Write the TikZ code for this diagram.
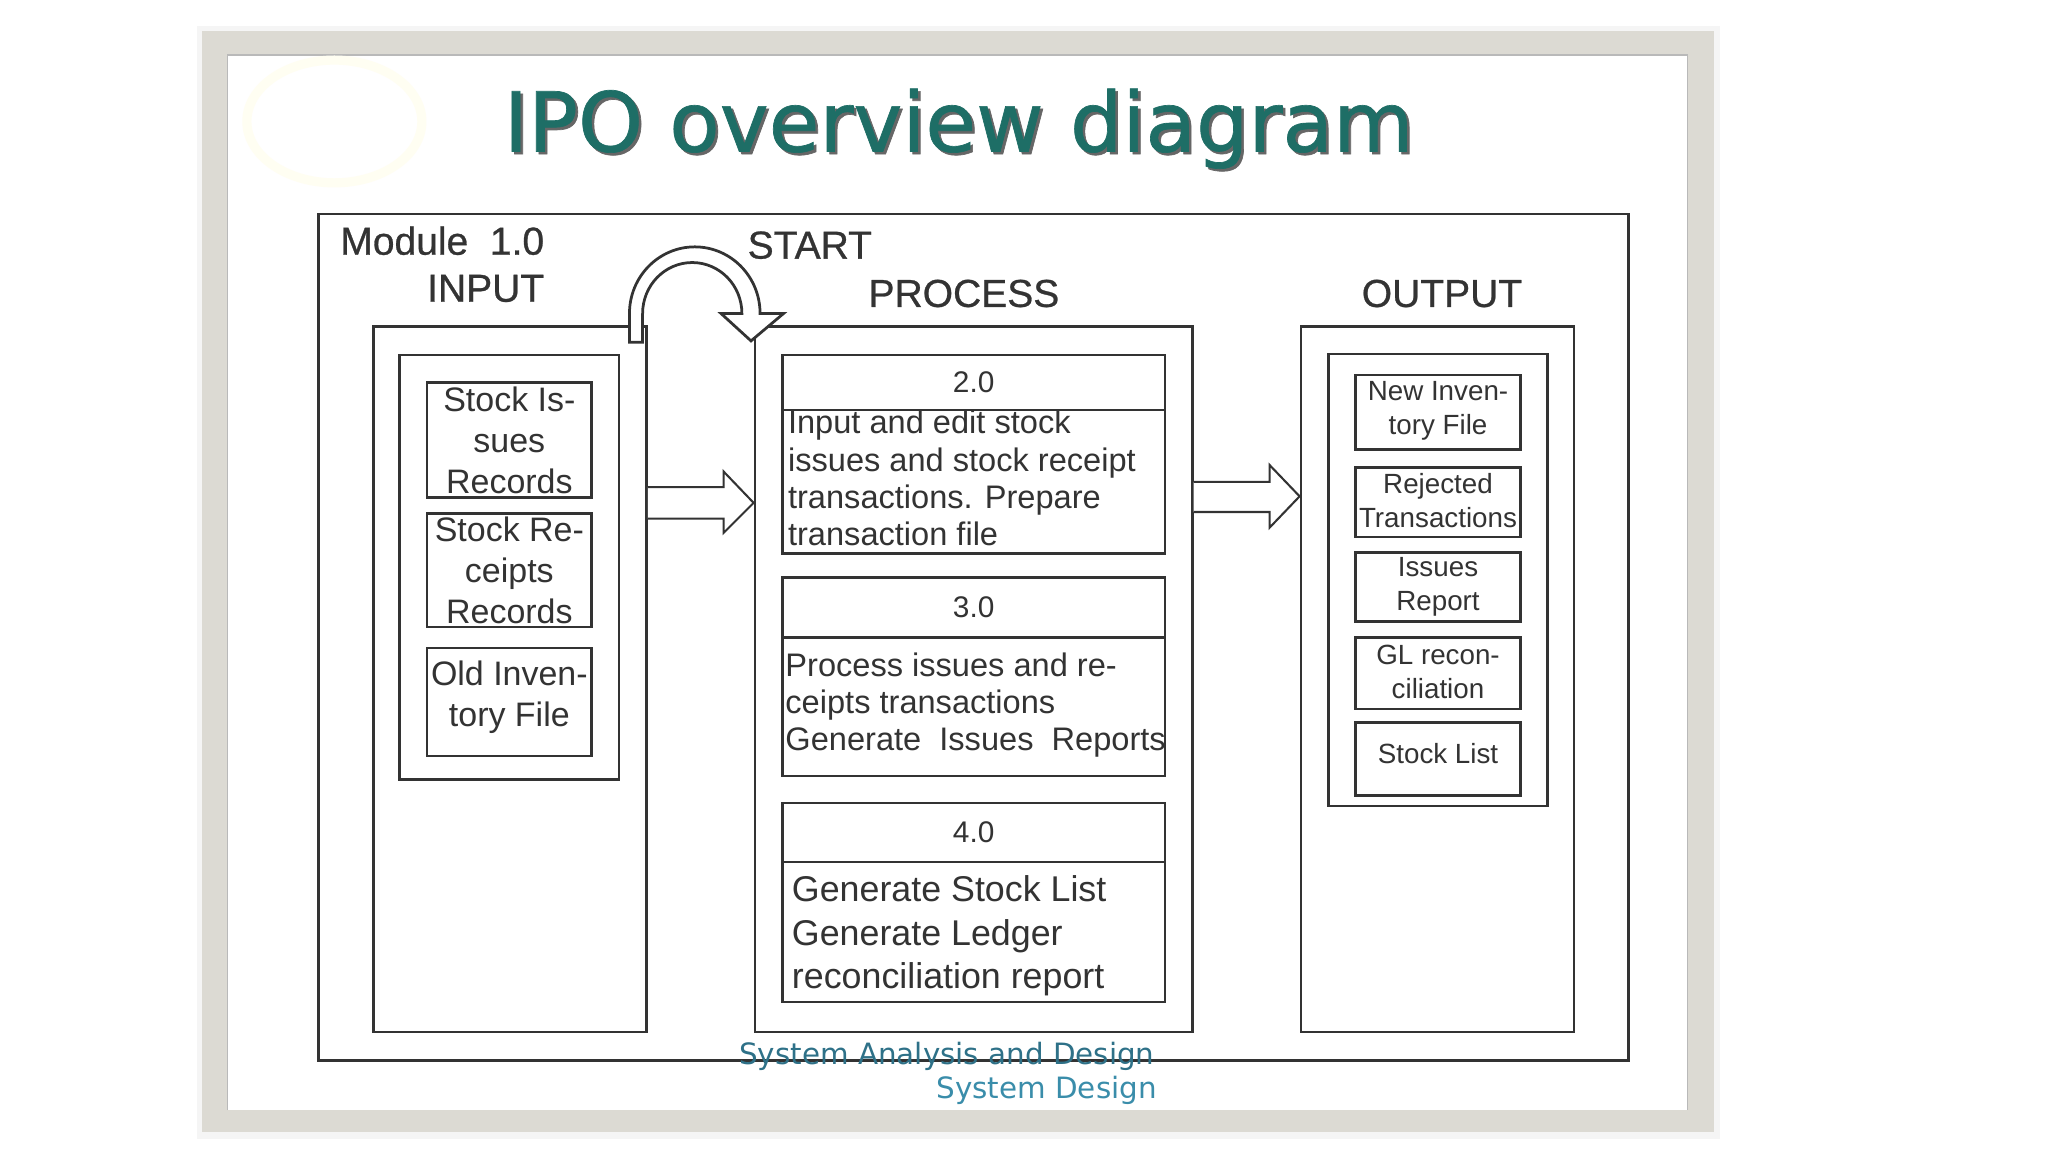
\documentclass[tikz,border=0pt]{standalone}
\usepackage{fontspec}
\setmainfont{Liberation Sans}
\newfontfamily\titlefont{DejaVu Sans}
\newfontfamily\heavytitle[FakeBold=0.8]{DejaVu Sans}
\newfontfamily\heavylbl[FakeBold=0.7]{Liberation Sans}
\usepackage{xcolor}
\usepackage{tikz}
\usetikzlibrary{calc,positioning}
\definecolor{ink}{HTML}{333333}
\definecolor{slideframe}{HTML}{DCDAD3}
\definecolor{titleteal}{HTML}{1E6E66}
\definecolor{footblue}{HTML}{3A8DAA}

\begin{document}
\begin{tikzpicture}[x=0.02cm,y=-0.02cm,
  bx/.style n args={2}{draw=ink,line width=1.1pt,fill=white,anchor=north west,inner sep=0pt,minimum width=#1*0.02cm,minimum height=#2*0.02cm},
  lbl/.style={text=ink,inner sep=0pt,font=\heavylbl\fontsize{17}{20}\selectfont},
  intxt/.style={text=ink,align=center,inner sep=0pt,font=\fontsize{14.8}{17.9}\selectfont},
  outtxt/.style={text=ink,align=center,inner sep=0pt,font=\fontsize{12.1}{14.8}\selectfont},
  numtxt/.style={text=ink,inner sep=0pt,font=\fontsize{13}{15}\selectfont},
  bodytxt/.style={text=ink,align=left,inner sep=0pt,anchor=west},
  blockarr/.style={draw=ink,line width=0.9pt,fill=white,line join=miter},
  foot/.style={text=footblue,inner sep=0pt,font=\titlefont\fontsize{12.8}{15}\selectfont}]
\useasboundingbox (0,0) rectangle (1568,882);
\fill[white] (0,0) rectangle (1568,882);
\fill[black!4] (151,20) rectangle (1317,872);
\fill[slideframe] (155,24) rectangle (1312,867);
\fill[white] (174,42) rectangle (1292,850);
\draw[gray!55,line width=0.6pt] (174,850) -- (174,42) -- (1292,42) -- (1292,850);
\draw[yellow!5,line width=4pt] (256,93) ellipse (67 and 47);

\node[font=\heavytitle\fontsize{36}{40}\selectfont,text=black!60,anchor=base,inner sep=0pt] (titleshadow) at (736,118) {IPO overview diagram};
\node[font=\heavytitle\fontsize{36}{40}\selectfont,text=titleteal,anchor=base,inner sep=0pt] (title) at (734,116) {IPO overview diagram};

\node[bx={1003}{648}] (module) at (243,163) {};
\node[lbl,anchor=base east] (modlbl) at (417,195) {Module\ \ 1.0};
\node[lbl,anchor=base east] (inlbl) at (417,231) {INPUT};
\node[lbl,anchor=base] (startlbl) at (620,198) {START};
\node[lbl,anchor=base] (proclbl) at (738,235) {PROCESS};
\node[lbl,anchor=base] (outlbl) at (1104,235) {OUTPUT};

\node[bx={209}{540}] (incol) at (285,249) {};
\node[bx={168}{325}] (ingrp) at (305,271) {};
\node[bx={126}{88}] (in1) at (326,292) {};
\node[bx={126}{87}] (in2) at (326,392) {};
\node[bx={126}{83}] (in3) at (326,495) {};
\node[intxt] (in1t) at (in1) {Stock Is-\\sues\\Records};
\node[intxt] (in2t) at (in2) {Stock Re-\\ceipts\\Records};
\node[intxt] (in3t) at ($(in3)+(0,-4)$) {Old Inven-\\tory File};

\node[bx={335}{540}] (proc) at (577,249) {};
\node[bx={293}{42}] (p2h) at (598,271) {};
\node[bx={293}{110}] (p2b) at (598,313) {};
\node[bx={293}{46}] (p3h) at (598,441) {};
\node[bx={293}{106}] (p3b) at (598,487) {};
\node[bx={293}{45}] (p4h) at (598,614) {};
\node[bx={293}{107}] (p4b) at (598,659) {};
\node[numtxt] (p2n) at (p2h) {2.0};
\node[numtxt] (p3n) at (p3h) {3.0};
\node[numtxt] (p4n) at (p4h) {4.0};
\node[bodytxt,font=\fontsize{14.2}{16.2}\selectfont] (p2t) at ($(p2b.west)+(5,-3)$) {Input and edit stock\\issues and stock receipt\\transactions. Prepare\\transaction file};
\node[bodytxt,font=\fontsize{14.2}{16.2}\selectfont] (p3t) at ($(p3b.west)+(3,-1)$) {Process issues and re-\\ceipts transactions\\Generate\ \ Issues\ \ Reports};
\node[bodytxt,font=\fontsize{15.6}{18.8}\selectfont] (p4t) at ($(p4b.west)+(8,3)$) {Generate Stock List\\Generate Ledger\\reconciliation report};

\node[bx={209}{540}] (outcol) at (995,249) {};
\node[bx={168}{346}] (outgrp) at (1016,270) {};
\node[bx={126}{57}] (o1) at (1037,286) {};
\node[bx={126}{53}] (o2) at (1037,357) {};
\node[bx={126}{53}] (o3) at (1037,422) {};
\node[bx={126}{55}] (o4) at (1037,487) {};
\node[bx={126}{56}] (o5) at (1037,552) {};
\node[outtxt] (o1t) at ($(o1)+(0,-1)$) {New Inven-\\tory File};
\node[outtxt] (o2t) at ($(o2)+(0,-1)$) {Rejected\\Transactions};
\node[outtxt] (o3t) at (o3) {Issues\\Report};
\node[outtxt] (o4t) at ($(o4)+(0,-1)$) {GL recon-\\ciliation};
\node[outtxt] (o5t) at ($(o5)+(0,-4)$) {Stock List};

\draw[blockarr] (incol.east |- 0,373) -- (554,373) -- (554,361) -- (proc.west |- 0,385) -- (554,408) -- (554,397) -- (incol.east |- 0,397);
\draw[blockarr] (proc.east |- 0,369) -- (972,369) -- (972,356) -- (outcol.west |- 0,380) -- (972,404) -- (972,392) -- (proc.east |- 0,392);
\draw[blockarr,line width=1.2pt] ($(incol.north east)+(-14,13)$) -- ++(0,-22) arc[start angle=180,end angle=360,x radius=50,y radius=51] -- ++(18,0) -- ($(proc.north west)+(-2,12)$) -- ++(-23,-21) -- ++(16,0) arc[start angle=0,end angle=-180,x radius=38,y radius=39] -- ++(0,22) -- cycle;

\node[foot,text=footblue!80!black,anchor=base] (foot1) at (725,815) {System Analysis and Design};
\node[foot,anchor=base east] (foot2) at (886,841) {System Design};
\end{tikzpicture}
\end{document}
